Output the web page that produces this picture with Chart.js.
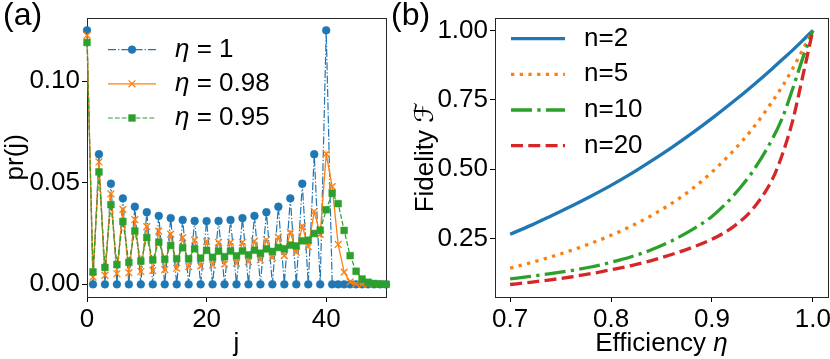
<!DOCTYPE html>
<html><head><meta charset="utf-8">
<script src="https://cdn.jsdelivr.net/npm/chart.js@4.4.1/dist/chart.umd.min.js"></script>
<style>
html,body{margin:0;padding:0;background:#fff;overflow:hidden;width:830px;height:359px;}
#wa{position:absolute;left:0;top:0;width:410px;height:359px;}
#wb{position:absolute;left:385px;top:0;width:465px;height:359px;}
</style></head><body>
<div id="wa"><canvas id="ca" width="410" height="359"></canvas></div>
<div id="wb"><canvas id="cb" width="465" height="359"></canvas></div>
<script>
// ---------- Panel (a) data ----------
const jValues = [0,1,2,3,4,5,6,7,8,9,10,11,12,13,14,15,16,17,18,19,20,21,22,23,24,25,26,27,28,29,30,31,32,33,34,35,36,37,38,39,40,41,42,43,44,45,46,47,48,49,50];
const prEta1 = [0.125,0,0.064,0,0.0495,0,0.0423,0,0.0382,0,
  0.0355,0,0.0337,0,0.0326,0,0.0317,0,0.0312,0,
  0.0311,0,0.0312,0,0.0317,0,0.0326,0,0.0337,0,
  0.0355,0,0.0382,0,0.0423,0,0.0495,0,0.064,0,
  0.125,0,0,0,0,0,0,0,0,0,
  0];
const prEta098 = [0.1225,0.0035,0.0602,0.0044,0.0445,0.0052,0.0369,0.0057,0.0318,0.0063,
  0.0284,0.0068,0.0262,0.0072,0.0247,0.0079,0.0230,0.0087,0.0217,0.0090,
  0.0210,0.0095,0.0206,0.0100,0.0206,0.0104,0.0207,0.0112,0.0212,0.0121,
  0.0219,0.0131,0.0232,0.0141,0.0257,0.0158,0.0286,0.0186,0.0358,0.0246,
  0.0642,0.0481,0.0196,0.0060,0.0012,0.0002,0,0,0,0,
  0];
const prEta095 = [0.119,0.0061,0.0553,0.0083,0.0392,0.0097,0.0309,0.0108,0.0262,0.0114,
  0.0230,0.0120,0.0207,0.0123,0.0191,0.0126,0.0180,0.0126,0.0175,0.0129,
  0.0167,0.0133,0.0163,0.0136,0.0164,0.0140,0.0164,0.0145,0.0168,0.0153,
  0.0174,0.0162,0.0181,0.0175,0.0193,0.0189,0.0214,0.0217,0.0250,0.0266,
  0.0367,0.0448,0.0397,0.0265,0.0141,0.0064,0.0026,0.0010,0.0004,0.0001,
  0];
const seriesLabelsA = ['1', '0.98', '0.95'];
const xTicksA = [0, 20, 40];
const yTicksA = [0.00, 0.05, 0.10];

// ---------- Panel (b) data ----------
const etaValues = [0.70,0.72,0.74,0.76,0.78,0.80,0.82,0.84,0.86,0.88,0.90,0.92,0.94,0.96,0.97,0.98,0.99,1.00];
const fidN2  = [0.266,0.297,0.331,0.366,0.403,0.442,0.484,0.530,0.578,0.629,0.683,0.740,0.800,0.863,0.896,0.929,0.964,1.000];
const fidN5  = [0.144,0.163,0.184,0.207,0.233,0.262,0.295,0.333,0.377,0.428,0.490,0.562,0.645,0.745,0.800,0.862,0.931,1.000];
const fidN10 = [0.105,0.114,0.124,0.135,0.148,0.165,0.185,0.210,0.242,0.282,0.330,0.400,0.490,0.610,0.687,0.790,0.900,1.000];
const fidN20 = [0.085,0.093,0.102,0.112,0.124,0.138,0.153,0.171,0.193,0.218,0.248,0.290,0.355,0.465,0.556,0.675,0.835,1.000];
const seriesLabelsB = ['n=2', 'n=5', 'n=10', 'n=20'];
const xTicksB = [0.7, 0.8, 0.9, 1.0];
const yTicksB = [0.25, 0.50, 0.75, 1.00];

// ---------- styling ----------
const FAM = "'Liberation Sans', Arial, 'DejaVu Sans', sans-serif";
const FS = 26;
const BLUE = '#1f77b4', ORANGE = '#ff7f0e', GREEN = '#2ca02c', RED = '#d62728';
const tickFont = {family: FAM, size: FS};

function drawParts(ctx, parts, x, y, align) {
  let total = 0;
  parts.forEach(p => { ctx.font = (p.it ? 'italic ' : '') + FS + 'px ' + FAM; p.w = ctx.measureText(p.t).width; total += p.w; });
  let cx = align === 'center' ? x - total / 2 : x;
  ctx.textAlign = 'left'; ctx.textBaseline = 'middle'; ctx.fillStyle = '#000';
  parts.forEach(p => { ctx.font = (p.it ? 'italic ' : '') + FS + 'px ' + FAM; ctx.fillText(p.t, cx, y); cx += p.w; });
}

const boxPlugin = {
  id: 'box',
  beforeDatasetsDraw(chart) {
    const {ctx, chartArea: a} = chart;
    ctx.save(); ctx.strokeStyle = '#262626'; ctx.lineWidth = 1; ctx.setLineDash([]);
    ctx.strokeRect(Math.round(a.left) + 0.5, Math.round(a.top) + 0.5, Math.round(a.right - a.left), Math.round(a.bottom - a.top));
    ctx.restore();
  }
};

function panelLabel(text, x, y) {
  return { id: 'panelLabel', afterDraw(chart) {
    const ctx = chart.ctx; ctx.save();
    ctx.font = '32px ' + FAM; ctx.fillStyle = '#000'; ctx.textAlign = 'left'; ctx.textBaseline = 'top';
    ctx.fillText(text, x, y); ctx.restore();
  }};
}

function legendPlugin(cfg) {
  return { id: 'inlineLegend', afterDraw(chart) {
    const ctx = chart.ctx, a = chart.chartArea;
    ctx.save();
    cfg.items.forEach((it, i) => {
      const y = a.top + cfg.y0 + i * cfg.dy;
      const x1 = a.left + cfg.x1, x2 = a.left + cfg.x2;
      ctx.strokeStyle = it.color; ctx.lineWidth = it.lw; ctx.lineCap = 'butt';
      ctx.setLineDash(it.dash || []);
      ctx.beginPath(); ctx.moveTo(x1, y); ctx.lineTo(x2, y); ctx.stroke();
      ctx.setLineDash([]);
      if (it.marker) {
        ctx.fillStyle = it.color; ctx.strokeStyle = it.color; ctx.lineWidth = it.mbw;
        Chart.helpers.drawPoint(ctx, {pointStyle: it.marker, radius: it.mr, rotation: 0, borderWidth: it.mbw}, (x1 + x2) / 2, y);
      }
      drawParts(ctx, it.parts, a.left + cfg.tx, y, 'left');
    });
    ctx.restore();
  }};
}

function xy(xs, ys) { return xs.map((x, i) => ({x: x, y: ys[i]})); }

function axisCommon(ticksArr, fmt, fitFn, title) {
  return {
    type: 'linear',
    afterBuildTicks: s => { s.ticks = ticksArr.map(v => ({value: v})); },
    afterFit: fitFn,
    ticks: {font: tickFont, color: '#000', padding: 2, maxRotation: 0, autoSkip: false, callback: fmt},
    grid: {display: true, drawOnChartArea: false, drawTicks: true, tickLength: 5, color: '#000', lineWidth: 1},
    border: {display: false},
    title: title
  };
}

// ---------- Chart (a) ----------
const dsA = [
  {data: xy(jValues, prEta1), borderColor: BLUE, backgroundColor: BLUE, pointBackgroundColor: BLUE, pointBorderColor: BLUE,
   borderWidth: 1.2, borderDash: [8, 2, 1.3, 2], pointStyle: 'circle', pointRadius: 3.9, pointBorderWidth: 0.5, order: 3},
  {data: xy(jValues, prEta098), borderColor: ORANGE, backgroundColor: ORANGE, pointBackgroundColor: ORANGE, pointBorderColor: ORANGE,
   borderWidth: 1.3, borderDash: [], pointStyle: 'crossRot', pointRadius: 4.8, pointBorderWidth: 1.3, order: 2},
  {data: xy(jValues, prEta095), borderColor: GREEN, backgroundColor: GREEN, pointBackgroundColor: GREEN, pointBorderColor: GREEN,
   borderWidth: 1.2, borderDash: [4.8, 2.1], pointStyle: 'rect', pointRadius: 4.8, pointBorderWidth: 0.5, order: 1}
];
dsA.forEach(d => { d.tension = 0; d.clip = false; d.fill = false; d.pointHoverRadius = d.pointRadius; });

new Chart(document.getElementById('ca'), {
  type: 'line',
  data: {datasets: dsA},
  options: {
    responsive: false, animation: false, devicePixelRatio: 1, events: [],
    layout: {padding: {left: 0, top: 13, right: 24, bottom: 0}},
    plugins: {legend: {display: false}, tooltip: {enabled: false}},
    scales: {
      x: Object.assign(axisCommon(xTicksA, v => String(v), s => { s.height = 62; },
           {display: true, text: 'j', font: tickFont, color: '#000', padding: {top: 0, bottom: 0}}), {min: 0, max: 50}),
      y: Object.assign(axisCommon(yTicksA, v => Number(v).toFixed(2), s => { s.width = 87; },
           {display: true, text: 'pr(j)', font: tickFont, color: '#000', padding: {top: 0, bottom: 0}}), {min: -0.00625, max: 0.13125})
    }
  },
  plugins: [boxPlugin, panelLabel('(a)', 3, 0), legendPlugin({
    x1: 21, x2: 69, tx: 88, y0: 32, dy: 34.2,
    items: [
      {color: BLUE, lw: 1.2, dash: [8, 2, 1.3, 2], marker: 'circle', mr: 3.9, mbw: 0.5, parts: [{t: 'η', it: true}, {t: ' = ' + seriesLabelsA[0]}]},
      {color: ORANGE, lw: 1.3, dash: [], marker: 'crossRot', mr: 4.8, mbw: 1.3, parts: [{t: 'η', it: true}, {t: ' = ' + seriesLabelsA[1]}]},
      {color: GREEN, lw: 1.2, dash: [4.8, 2.1], marker: 'rect', mr: 4.8, mbw: 0.5, parts: [{t: 'η', it: true}, {t: ' = ' + seriesLabelsA[2]}]}
    ]
  })]
});

// ---------- Chart (b) ----------
const dsB = [
  {data: xy(etaValues, fidN2), borderColor: BLUE, borderDash: [], order: 4},
  {data: xy(etaValues, fidN5), borderColor: ORANGE, borderDash: [3.3, 5.4], order: 3},
  {data: xy(etaValues, fidN10), borderColor: GREEN, borderDash: [21, 5.3, 3.3, 5.3], order: 2},
  {data: xy(etaValues, fidN20), borderColor: RED, borderDash: [12, 5.3], order: 1}
];
dsB.forEach(d => { d.borderWidth = 3.3; d.pointRadius = 0; d.pointHoverRadius = 0; d.cubicInterpolationMode = 'monotone'; d.fill = false; d.borderCapStyle = 'butt'; });

const xTitleB = { id: 'xTitleB', afterDraw(chart) {
  const a = chart.chartArea; const ctx = chart.ctx; ctx.save();
  drawParts(ctx, [{t: 'Efficiency '}, {t: 'η', it: true}], (a.left + a.right) / 2, 343.4, 'center');
  ctx.restore();
}};

new Chart(document.getElementById('cb'), {
  type: 'line',
  data: {datasets: dsB},
  options: {
    responsive: false, animation: false, devicePixelRatio: 1, events: [],
    layout: {padding: {left: 0, top: 12, right: 22, bottom: 0}},
    plugins: {legend: {display: false}, tooltip: {enabled: false}},
    scales: {
      x: Object.assign(axisCommon(xTicksB, v => Number(v).toFixed(1), s => { s.height = 62; },
           {display: false}), {min: 0.685, max: 1.015}),
      y: Object.assign(axisCommon(yTicksB, v => Number(v).toFixed(2), s => { s.width = 110; },
           {display: true, text: 'Fidelity ℱ', font: tickFont, color: '#000', padding: {top: 25, bottom: 0}}), {min: 0.040, max: 1.046})
    }
  },
  plugins: [boxPlugin, xTitleB, panelLabel('(b)', 6, 0), legendPlugin({
    x1: 16, x2: 70, tx: 89, y0: 21, dy: 35.7,
    items: [
      {color: BLUE, lw: 3.3, dash: [], parts: [{t: seriesLabelsB[0]}]},
      {color: ORANGE, lw: 3.3, dash: [3.3, 5.4], parts: [{t: seriesLabelsB[1]}]},
      {color: GREEN, lw: 3.3, dash: [21, 5.3, 3.3, 5.3], parts: [{t: seriesLabelsB[2]}]},
      {color: RED, lw: 3.3, dash: [12, 5.3], parts: [{t: seriesLabelsB[3]}]}
    ]
  })]
});
</script>
</body></html>
